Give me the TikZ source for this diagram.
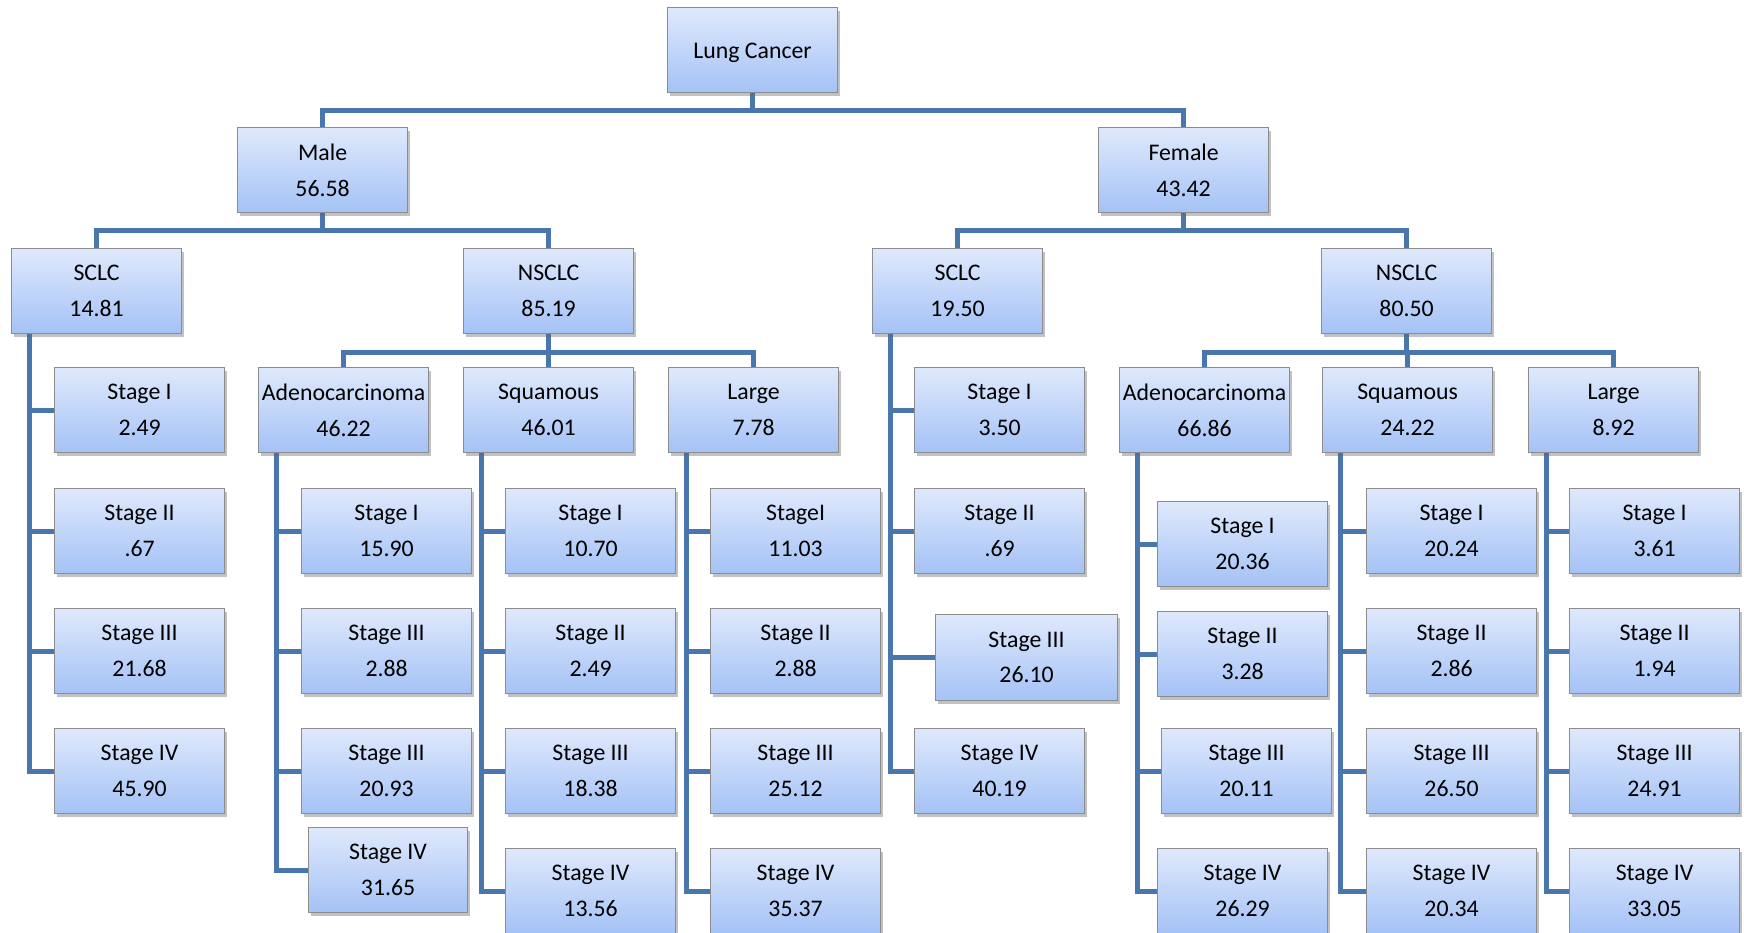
\documentclass[tikz,border=0pt]{standalone}
\usepackage{fontspec}
\setmainfont{Carlito}
\usetikzlibrary{shadows,backgrounds,calc}
\definecolor{linkc}{RGB}{74,118,174}
\definecolor{boxtop}{RGB}{223,233,252}
\definecolor{boxbot}{RGB}{164,194,246}
\definecolor{boxedge}{RGB}{140,140,140}
\tikzset{
  box/.style={draw=boxedge, line width=1.2pt, top color=boxtop, bottom color=boxbot,
    minimum width=170pt, minimum height=85pt, inner sep=0pt, anchor=north west,
    align=center, font=\fontsize{23.8}{35.5}\selectfont,
    drop shadow={shadow xshift=2pt, shadow yshift=-3pt, opacity=0.4, fill=black!60}},
  link/.style={draw=linkc, line width=5pt}
}
\begin{document}
\begin{tikzpicture}[x=1pt,y=-1pt]
\useasboundingbox (0,0) rectangle (1744,932);
% level 0-1
\node[box, text depth=1pt] (lc) at (667,7) {\raisebox{-3pt}{Lung Cancer}};
\node[box] (male) at (237,127) {Male\\56.58};
\node[box] (female) at (1098,127) {Female\\43.42};
% level 2
\node[box] (msclc) at (11,248) {SCLC\\14.81};
\node[box] (mnsclc) at (463,248) {NSCLC\\85.19};
\node[box] (fsclc) at (872,248) {SCLC\\19.50};
\node[box] (fnsclc) at (1321,248) {NSCLC\\80.50};
% level 3
\node[box] (madeno) at (258,367) {Adenocarcinoma\\46.22};
\node[box] (msq) at (463,367) {Squamous\\46.01};
\node[box] (mlarge) at (668,367) {Large\\7.78};
\node[box] (fadeno) at (1119,367) {Adenocarcinoma\\66.86};
\node[box] (fsq) at (1322,367) {Squamous\\24.22};
\node[box] (flarge) at (1528,367) {Large\\8.92};
% SCLC male stages
\node[box] (ms1) at (54,367) {Stage I\\2.49};
\node[box] (ms2) at (54,488) {Stage II\\.67};
\node[box] (ms3) at (54,608) {Stage III\\21.68};
\node[box] (ms4) at (54,728) {Stage IV\\45.90};
% Adeno male stages
\node[box] (ma1) at (301,488) {Stage I\\15.90};
\node[box] (ma2) at (301,608) {Stage III\\2.88};
\node[box] (ma3) at (301,728) {Stage III\\20.93};
\node[box, minimum width=159pt] (ma4) at (308,827) {Stage IV\\31.65};
% Squamous male stages
\node[box] (mq1) at (505,488) {Stage I\\10.70};
\node[box] (mq2) at (505,608) {Stage II\\2.49};
\node[box] (mq3) at (505,728) {Stage III\\18.38};
\node[box] (mq4) at (505,848) {Stage IV\\13.56};
% Large male stages
\node[box] (ml1) at (710,488) {StageI\\11.03};
\node[box] (ml2) at (710,608) {Stage II\\2.88};
\node[box] (ml3) at (710,728) {Stage III\\25.12};
\node[box] (ml4) at (710,848) {Stage IV\\35.37};
% SCLC female stages
\node[box] (fs1) at (914,367) {Stage I\\3.50};
\node[box] (fs2) at (914,488) {Stage II\\.69};
\node[box, minimum width=182pt, minimum height=86pt] (fs3) at (935,614) {Stage III\\26.10};
\node[box] (fs4) at (914,728) {Stage IV\\40.19};
% Adeno female stages
\node[box] (fa1) at (1157,501) {Stage I\\20.36};
\node[box] (fa2) at (1157,611) {Stage II\\3.28};
\node[box] (fa3) at (1161,728) {Stage III\\20.11};
\node[box] (fa4) at (1157,848) {Stage IV\\26.29};
% Squamous female stages
\node[box] (fq1) at (1366,488) {Stage I\\20.24};
\node[box] (fq2) at (1366,608) {Stage II\\2.86};
\node[box] (fq3) at (1366,728) {Stage III\\26.50};
\node[box] (fq4) at (1366,848) {Stage IV\\20.34};
% Large female stages
\node[box] (fl1) at (1569,488) {Stage I\\3.61};
\node[box] (fl2) at (1569,608) {Stage II\\1.94};
\node[box] (fl3) at (1569,728) {Stage III\\24.91};
\node[box] (fl4) at (1569,848) {Stage IV\\33.05};

\coordinate (b0) at (0,110);
\coordinate (b1) at (0,230);
\coordinate (b2) at (0,352);

\begin{pgfonlayer}{background}
\fill[white] (0,0) rectangle (1744,932);
% tree buses
\foreach \c in {male,female}
  \draw[link] (lc.south) -- (lc.south |- b0) -| (\c.north);
\foreach \c in {msclc,mnsclc}
  \draw[link] (male.south) -- (male.south |- b1) -| (\c.north);
\foreach \c in {fsclc,fnsclc}
  \draw[link] (female.south) -- (female.south |- b1) -| (\c.north);
\foreach \c in {madeno,msq,mlarge}
  \draw[link] (mnsclc.south) -- (mnsclc.south |- b2) -| (\c.north);
\foreach \c in {fadeno,fsq,flarge}
  \draw[link] (fnsclc.south) -- (fnsclc.south |- b2) -| (\c.north);
% stage spines
\foreach \c in {ms1,ms2,ms3,ms4}
  \draw[link] ([xshift=18pt]msclc.south west) |- (\c.west);
\foreach \c in {ma1,ma2,ma3,ma4}
  \draw[link] ([xshift=18pt]madeno.south west) |- (\c.west);
\foreach \c in {mq1,mq2,mq3,mq4}
  \draw[link] ([xshift=18pt]msq.south west) |- (\c.west);
\foreach \c in {ml1,ml2,ml3,ml4}
  \draw[link] ([xshift=18pt]mlarge.south west) |- (\c.west);
\foreach \c in {fs1,fs2,fs3,fs4}
  \draw[link] ([xshift=18pt]fsclc.south west) |- (\c.west);
\foreach \c in {fa1,fa2,fa3,fa4}
  \draw[link] ([xshift=18pt]fadeno.south west) |- (\c.west);
\foreach \c in {fq1,fq2,fq3,fq4}
  \draw[link] ([xshift=18pt]fsq.south west) |- (\c.west);
\foreach \c in {fl1,fl2,fl3,fl4}
  \draw[link] ([xshift=18pt]flarge.south west) |- (\c.west);
\end{pgfonlayer}
\end{tikzpicture}
\end{document}
